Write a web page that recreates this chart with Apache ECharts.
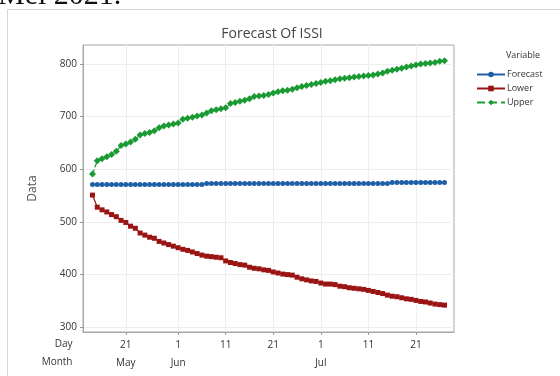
<!DOCTYPE html>
<html><head><meta charset="utf-8">
<script src="https://cdn.jsdelivr.net/npm/echarts@6/dist/echarts.min.js"></script>
<style>html,body{margin:0;padding:0;background:#fff}#c{width:560px;height:376px}</style>
</head><body><div id="c"></div><script>
const dates = [
 '05-14','05-15','05-16','05-17','05-18','05-19','05-20','05-21','05-22','05-23','05-24','05-25','05-26','05-27','05-28','05-29','05-30','05-31',
 '06-01','06-02','06-03','06-04','06-05','06-06','06-07','06-08','06-09','06-10','06-11','06-12','06-13','06-14','06-15','06-16','06-17','06-18','06-19','06-20',
 '06-21','06-22','06-23','06-24','06-25','06-26','06-27','06-28','06-29','06-30',
 '07-01','07-02','07-03','07-04','07-05','07-06','07-07','07-08','07-09','07-10','07-11','07-12','07-13','07-14','07-15','07-16','07-17','07-18','07-19','07-20',
 '07-21','07-22','07-23','07-24','07-25','07-26','07-27'
];
const forecast = [
 571,571,571,571,571,571,571,571,571,571,571,571,571,571,571,571,571,571,571,571,571,571,571,571,
 573,573,573,573,573,573,573,573,573,573,573,573,573,573,573,573,573,573,573,573,573,573,573,573,573,573,573,573,573,573,573,573,573,573,573,573,573,573,573,
 575,575,575,575,575,575,575,575,575,575,575,575
];
const lower = [
 551,528,523,519,514,510,503,499,492,488,479,475,471,469,463,460,457,454,451,448,446,443,440,437,435,434,433,432,426,423,
 421,419,418,414,412,411,409,408,405,403,401,400,399,395,392,390,388,387,384,382,382,381,378,377,375,374,373,372,370,368,
 366,364,361,359,358,356,354,353,351,349,348,346,344,343,342
];
const upper = [
 591,616,620,624,628,634,645,648,652,657,665,668,670,673,679,682,684,686,688,695,697,699,701,703,707,711,713,715,717,725,
 727,729,731,734,738,739,740,742,745,747,749,750,752,755,757,759,761,763,765,767,768,770,772,773,774,775,776,777,778,779,
 781,783,786,788,790,792,794,796,798,800,801,802,803,805,806
];
const xTickDates = ['05-21','06-01','06-11','06-21','07-01','07-11','07-21'];
const yTicks = [300,400,500,600,700,800];
const monthNames = {'05':'May','06':'Jun','07':'Jul'};
const xTicks = xTickDates.map(d => dates.indexOf(d));

const toPts = arr => arr.map((v, i) => [i, v]);
const font = '"Open Sans", "Noto Sans", sans-serif';

const chart = echarts.init(document.getElementById('c'), null, {renderer: 'canvas'});
chart.setOption({
  backgroundColor: '#fff',
  animation: false,
  title: {
    text: 'Forecast Of ISSI', left: 267, top: 22, textAlign: 'center',
    textStyle: {fontFamily: font, fontSize: 14, fontWeight: 'normal', color: '#444'}
  },
  legend: {
    orient: 'vertical', left: 471, top: 65, itemWidth: 28, itemHeight: 7, itemGap: 5,
    textStyle: {fontFamily: font, fontSize: 9, color: '#333', padding: [0, 0, 0, -3]},
    data: ['Forecast', 'Lower', 'Upper']
  },
  grid: {left: 83, right: 106, top: 45, bottom: 44, show: true, borderColor: '#a8a8a8', borderWidth: 1, containLabel: false},
  xAxis: {
    type: 'value', min: -2, max: 76,
    axisLine: {show: true, onZero: false, lineStyle: {color: '#a8a8a8'}},
    axisTick: {show: true, length: 3, customValues: xTicks, lineStyle: {color: '#999'}},
    splitLine: {show: true, lineStyle: {color: '#eeeeee'}},
    axisLabel: {
      customValues: xTicks, margin: 4, fontFamily: font, fontSize: 10, color: '#333', lineHeight: 18,
      formatter: v => {
        const d = dates[v];
        if (!d) return '';
        const m = d.slice(0, 2);
        const first = xTicks.find(t => dates[t].slice(0, 2) === m);
        const day = String(parseInt(d.slice(3), 10));
        return first === v ? day + '\n' + monthNames[m] : day;
      }
    }
  },
  yAxis: {
    type: 'value', min: 291, max: 836, name: 'Data', nameLocation: 'middle', nameGap: 44,
    nameTextStyle: {fontFamily: font, fontSize: 12, color: '#555'},
    axisLine: {show: true, onZero: false, lineStyle: {color: '#a8a8a8'}},
    axisTick: {show: true, length: 3, customValues: yTicks, lineStyle: {color: '#999'}},
    splitLine: {show: true, lineStyle: {color: '#eeeeee'}},
    axisLabel: {customValues: yTicks, margin: 6, fontFamily: font, fontSize: 10, color: '#333'}
  },
  graphic: [
    {type: 'rect', z: -10, silent: true, shape: {x: 7.5, y: 9.5, width: 600, height: 420}, style: {fill: 'none', stroke: '#d6d6d6', lineWidth: 1}},
    {type: 'text', left: -2, top: -19, silent: true, style: {text: 'Mel 2021.', font: '30px "Liberation Serif", serif', fill: '#111'}},
    {type: 'text', left: 506, top: 51, silent: true, style: {text: 'Variable', font: '9px "Open Sans", sans-serif', fill: '#333'}},
    {type: 'text', right: 560 - 72.5, top: 339, silent: true, style: {text: 'Day', font: '10px "Open Sans", sans-serif', fill: '#333', textAlign: 'right'}},
    {type: 'text', right: 560 - 72.5, top: 357, silent: true, style: {text: 'Month', font: '10px "Open Sans", sans-serif', fill: '#333', textAlign: 'right'}}
  ],
  series: [
    {name: 'Forecast', type: 'line', data: toPts(forecast), symbol: 'circle', symbolSize: 5,
     itemStyle: {color: '#1f5fa8'}, lineStyle: {color: '#1f5fa8', width: 1.2}, z: 3},
    {name: 'Lower', type: 'line', data: toPts(lower), symbol: 'rect', symbolSize: 5,
     itemStyle: {color: '#9b1414'}, lineStyle: {color: '#9b1414', width: 1.2}, z: 2},
    {name: 'Upper', type: 'line', data: toPts(upper), symbol: 'diamond', symbolSize: 7,
     itemStyle: {color: '#1a9a33'}, lineStyle: {color: '#1a9a33', width: 1.2, type: 'dashed'}, z: 2}
  ]
});
</script></body></html>
